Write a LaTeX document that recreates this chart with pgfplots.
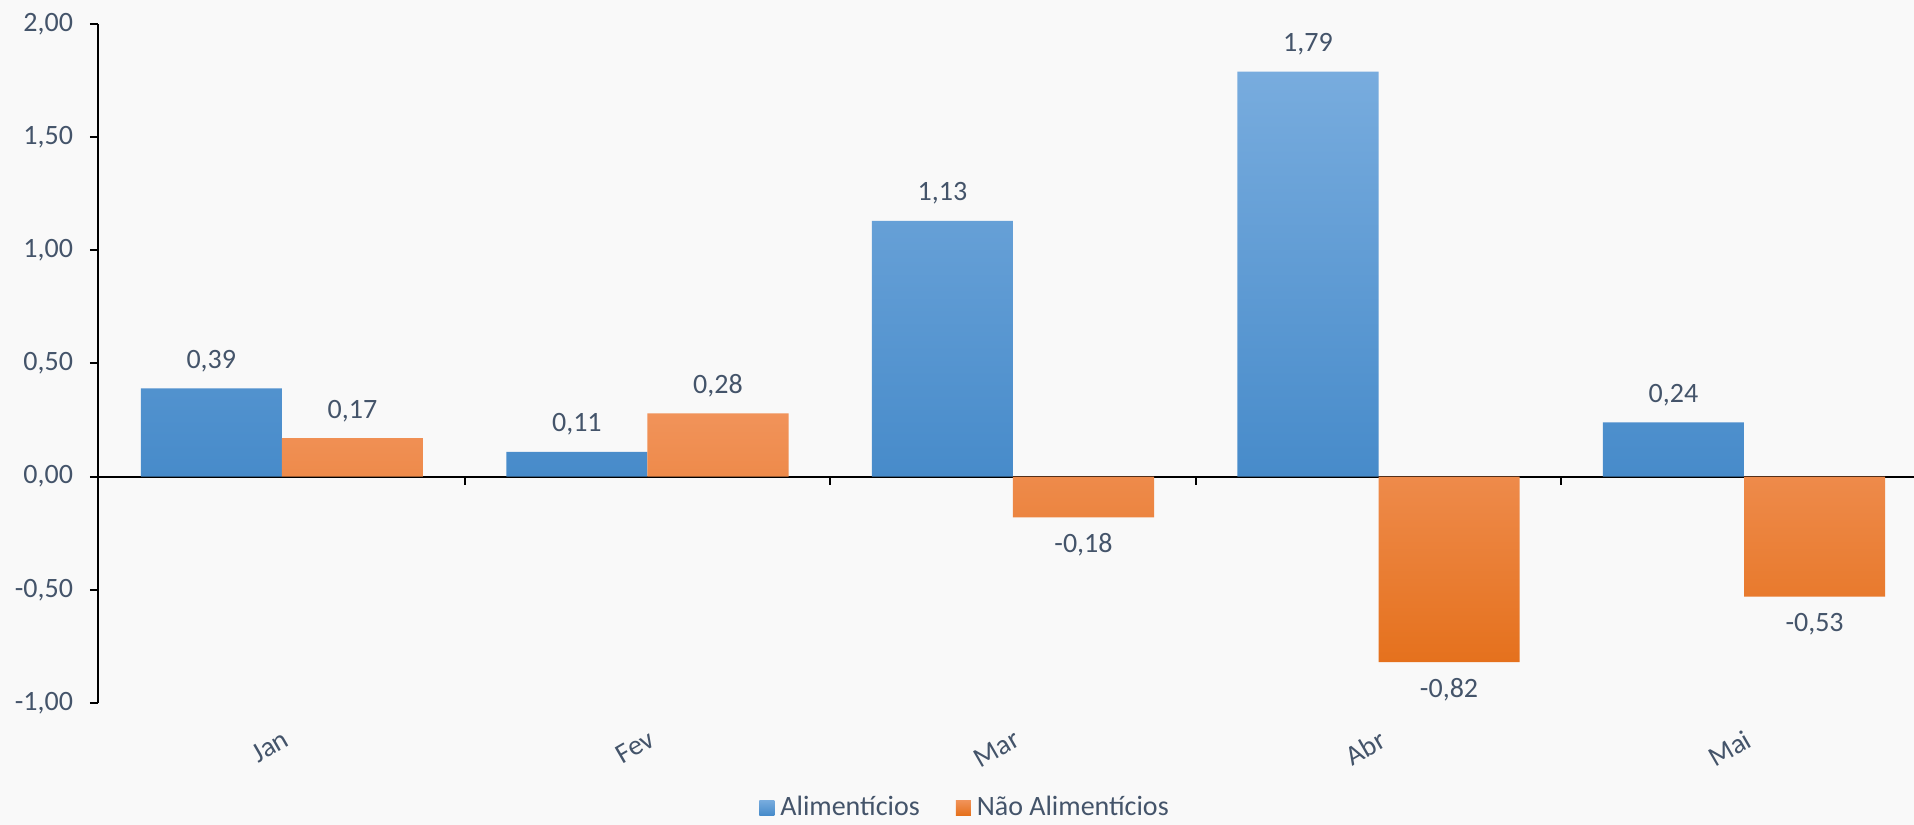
\documentclass[border=0pt]{standalone}
\usepackage{pgfplots}
\pgfplotsset{compat=1.18}
\usepackage{fontspec}
\setmainfont{Carlito}
\definecolor{txt}{HTML}{44546A}
\definecolor{bgc}{HTML}{F9F9F9}
\definecolor{bluetop}{HTML}{78ACDE}
\definecolor{bluemid}{HTML}{5B9FDF}
\definecolor{bluebot}{HTML}{478BCA}
\definecolor{orgtop}{HTML}{F1935A}
\definecolor{orgmid}{HTML}{F48128}
\definecolor{orgbot}{HTML}{E5711D}
\pagecolor{bgc}
\pgfplotsset{
  sqlegend/.style={legend image code/.code={\path[##1] (0pt,-3.75pt) rectangle (7.5pt,3.75pt); \path (8.5pt,0pt);}},
}

\begin{document}
\begin{tikzpicture}
\begin{axis}[
  scale only axis,
  width=908pt, height=339.5pt,
  xmin=-0.503, xmax=4.465,
  ymin=-1, ymax=2,
  axis x line=middle,
  axis y line=left,
  axis line style={-, line width=1pt, black},
  hide obscured x ticks=false,
  hide obscured y ticks=false,
  tick align=outside,
  major tick length=4pt,
  tick style={line width=1pt, black},
  ytick={-1,-0.5,0,0.5,1,1.5,2},
  y tick label style={font=\fontsize{14}{16}\selectfont, text=txt, xshift=-5pt,
    /pgf/number format/.cd, fixed, fixed zerofill, precision=2, use comma, assume math mode=true},
  xtick={0.5,1.5,2.5,3.5},
  xticklabels={},
  extra x ticks={0,1,2,3,4},
  extra x tick labels={Jan,Fev,Mar,Abr,Mai},
  extra x tick style={major tick length=0pt},
  x tick label style={font=\fontsize{14}{16}\selectfont, text=txt, inner sep=0pt,
    yshift=-126pt, rotate=30, anchor=north east},
  ybar=0pt,
  bar width=0.386,
  clip=false,
  nodes near coords={\pgfmathprintnumber[fixed, fixed zerofill, precision=2, use comma, assume math mode=true]{\pgfplotspointmeta}},
  nodes near coords style={font=\fontsize{14}{16}\selectfont, text=txt, inner sep=8pt},
  legend style={at={(0.478,-0.154)}, anchor=center, draw=none, fill=none,
    legend columns=2, font=\fontsize{14}{16}\selectfont, text=txt,
    nodes={inner sep=2pt},
    /tikz/every even column/.append style={column sep=16pt}},
]
\addplot[draw=none, top color=bluetop, middle color=bluemid, bottom color=bluebot, sqlegend]
coordinates {(0,0.39) (1,0.11) (2,1.13) (3,1.79) (4,0.24)};
\addplot[draw=none, top color=orgtop, middle color=orgmid, bottom color=orgbot, sqlegend]
coordinates {(0,0.17) (1,0.28) (2,-0.18) (3,-0.82) (4,-0.53)};
\legend{Alimentícios, Não Alimentícios}
\coordinate (sw) at (rel axis cs:0,0);
\coordinate (ne) at (rel axis cs:1,1);
\end{axis}
\pgfresetboundingbox
\path[use as bounding box] ([shift={(-49pt,-61pt)}]sw) rectangle ([shift={(0pt,12pt)}]ne);
\end{tikzpicture}
\end{document}
